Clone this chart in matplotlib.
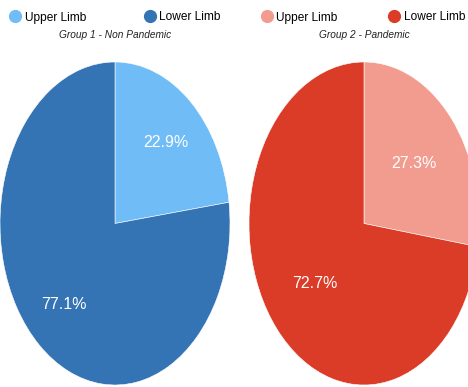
import matplotlib
matplotlib.use("Agg")
import matplotlib.pyplot as plt
from matplotlib.lines import Line2D

# Injury site share per group
categories = ["Upper Limb", "Lower Limb"]
group1_title = "Group 1 - Non Pandemic"
group1_values = [22.9, 77.1]
group2_title = "Group 2 - Pandemic"
group2_values = [27.3, 72.7]

blues = ["#6fbcf6", "#3474b4"]
reds = ["#f29b8f", "#da3c27"]

plt.rcParams["font.family"] = ["Liberation Sans", "DejaVu Sans"]

W, H = 468, 387
fig = plt.figure(figsize=(W / 100, H / 100), dpi=100)
fig.patch.set_facecolor("white")


def draw_group(left_px, values, colors, title, pctdist, leg_shift, leg_gap):
    # pie is stretched vertically: axes box 230 px wide, 323 px tall
    ax = fig.add_axes([left_px / W, 2 / H, 230 / W, 323 / H])
    wedges, texts, autotexts = ax.pie(
        values, colors=colors, startangle=90, counterclock=False,
        autopct="%.1f%%", pctdistance=pctdist,
        wedgeprops=dict(edgecolor="white", linewidth=0.4),
        textprops=dict(color="white", fontsize=11.5),
    )
    ax.set_aspect("auto")
    ax.set_xlim(-1, 1)
    ax.set_ylim(-1, 1)
    ax.axis("off")

    cx = (left_px + 115 + leg_shift) / W
    handles = [Line2D([], [], marker="o", linestyle="none", markersize=8.5,
                      markerfacecolor=c, markeredgecolor=c) for c in colors]
    fig.legend(handles, categories, loc="center", bbox_to_anchor=(cx, 1 - 17.5 / H),
               ncol=2, frameon=False, fontsize=8.6, handletextpad=0.3,
               columnspacing=leg_gap, handlelength=1.0, borderaxespad=0,
               borderpad=0)
    fig.text(left_px / W + 115 / W, 1 - 35 / H, title, ha="center", va="center",
             fontsize=7.3, style="italic", color="#222222")
    return ax


draw_group(0, group1_values, blues, group1_title, 0.67, 0, 4.8)
draw_group(249, group2_values, reds, group2_title, 0.57, -1, 4.2)

fig.savefig("out.png", dpi=100)
